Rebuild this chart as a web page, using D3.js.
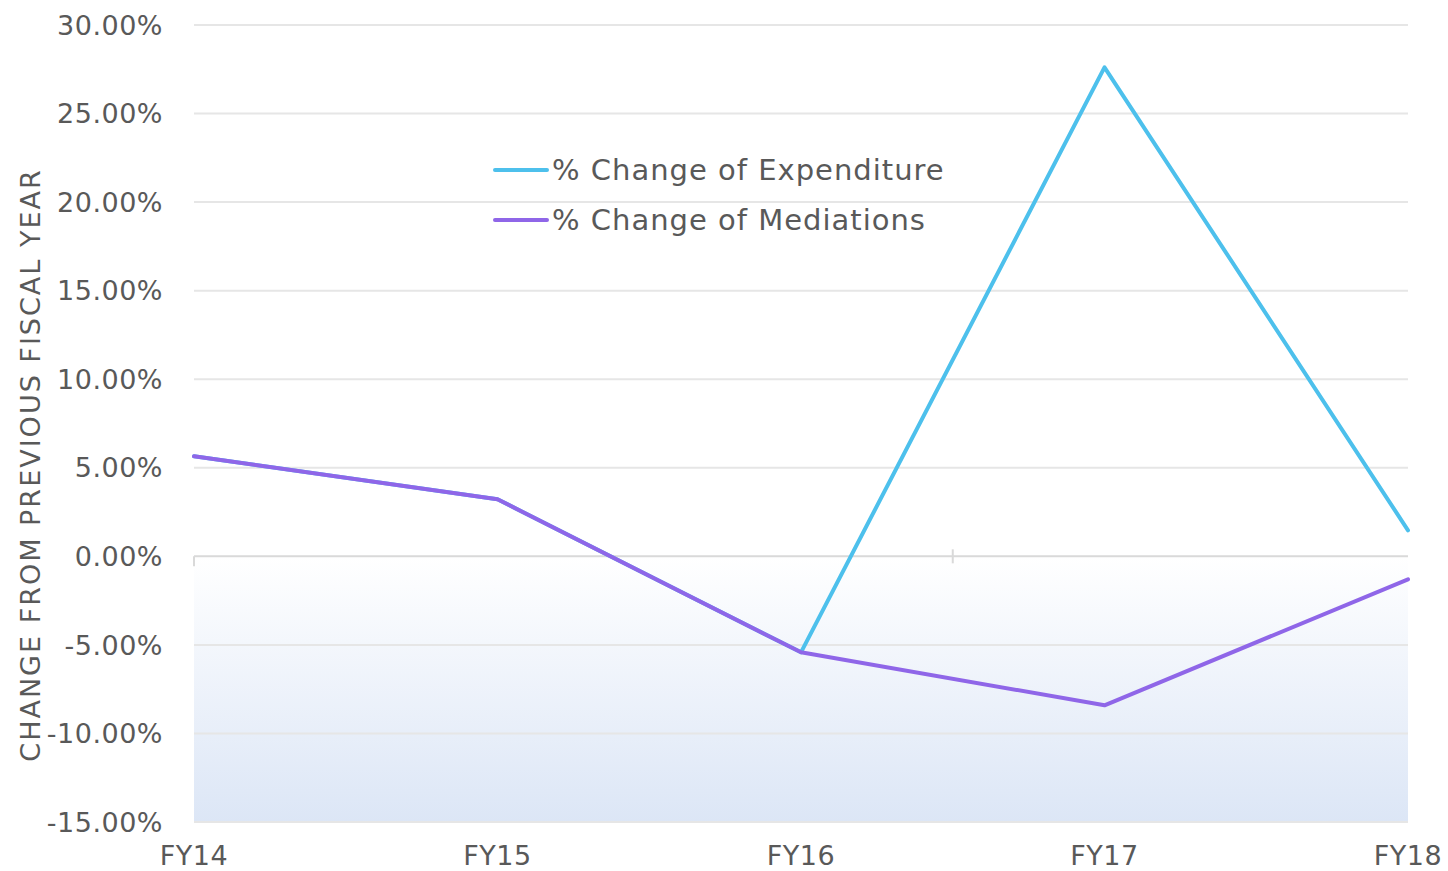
<!DOCTYPE html>
<html>
<head>
<meta charset="utf-8">
<script src="https://cdn.jsdelivr.net/npm/d3@7"></script>
<style>
  body { margin: 0; background: #fff; }
  text { font-family: "DejaVu Sans", sans-serif; fill: #595959; }
</style>
</head>
<body>
<div id="chart"></div>
<script>
var years = ["FY14", "FY15", "FY16", "FY17", "FY18"];
var expenditure = [5.65, 3.22, -5.42, 27.61, 1.47];
var mediations = [5.65, 3.22, -5.42, -8.41, -1.30];
var yTicks = [-15, -10, -5, 0, 5, 10, 15, 20, 25, 30];

var svgWidth = 1448;
var svgHeight = 871;
var margin = { top: 25, right: 40, bottom: 49, left: 194 };
var chartWidth = svgWidth - margin.left - margin.right;
var chartHeight = svgHeight - margin.top - margin.bottom;

var svg = d3.select("#chart")
  .append("svg")
  .attr("width", svgWidth)
  .attr("height", svgHeight);

var chartGroup = svg.append("g")
  .attr("transform", `translate(${margin.left}, ${margin.top})`);

var x = d3.scalePoint().domain(years).range([0, chartWidth]);
var y = d3.scaleLinear().domain([-15, 30]).range([chartHeight, 0]);

// shaded area below zero
var defs = svg.append("defs");
var grad = defs.append("linearGradient")
  .attr("id", "negGrad")
  .attr("x1", 0).attr("y1", 0).attr("x2", 0).attr("y2", 1);
grad.append("stop").attr("offset", "0%").attr("stop-color", "#ffffff");
grad.append("stop").attr("offset", "100%").attr("stop-color", "#dce6f6");

chartGroup.append("rect")
  .attr("x", 0)
  .attr("y", y(0))
  .attr("width", chartWidth)
  .attr("height", y(-15) - y(0))
  .attr("fill", "url(#negGrad)");

// gridlines
chartGroup.selectAll(".grid")
  .data(yTicks.filter(d => d !== 0))
  .enter().append("line")
  .attr("x1", 0).attr("x2", chartWidth)
  .attr("y1", d => y(d)).attr("y2", d => y(d))
  .attr("stroke", "#e6e6e6")
  .attr("stroke-width", 2);

// zero line with small ticks
chartGroup.append("line")
  .attr("x1", 0).attr("x2", chartWidth)
  .attr("y1", y(0)).attr("y2", y(0))
  .attr("stroke", "#d9d9d9")
  .attr("stroke-width", 2);
chartGroup.append("line")
  .attr("x1", 0).attr("x2", 0)
  .attr("y1", y(0)).attr("y2", y(0) + 10)
  .attr("stroke", "#d9d9d9").attr("stroke-width", 2);
chartGroup.append("line")
  .attr("x1", chartWidth * 0.625).attr("x2", chartWidth * 0.625)
  .attr("y1", y(0) - 7).attr("y2", y(0) + 7)
  .attr("stroke", "#d9d9d9").attr("stroke-width", 2);

// y tick labels
chartGroup.selectAll(".ylab")
  .data(yTicks)
  .enter().append("text")
  .attr("x", -31)
  .attr("y", d => y(d))
  .attr("dy", "0.36em")
  .attr("text-anchor", "end")
  .style("font-size", "27px")
  .style("letter-spacing", "0.5px")
  .text(d => d.toFixed(2) + "%");

// x tick labels
chartGroup.selectAll(".xlab")
  .data(years)
  .enter().append("text")
  .attr("x", d => x(d))
  .attr("y", chartHeight + 33)
  .attr("dy", "0.36em")
  .attr("text-anchor", "middle")
  .style("font-size", "27px")
  .style("letter-spacing", "0.5px")
  .text(d => d);

// y axis title
svg.append("text")
  .attr("transform", "rotate(-90)")
  .attr("x", -465)
  .attr("y", 30)
  .attr("dy", "0.36em")
  .attr("text-anchor", "middle")
  .style("font-size", "27px")
  .style("letter-spacing", "2px")
  .text("CHANGE FROM PREVIOUS FISCAL YEAR");

// lines
var line = d3.line()
  .x((d, i) => x(years[i]))
  .y(d => y(d));

chartGroup.append("path")
  .datum(expenditure)
  .attr("d", line)
  .attr("fill", "none")
  .attr("stroke", "#4dc0ec")
  .attr("stroke-width", 4)
  .attr("stroke-linejoin", "round")
  .attr("stroke-linecap", "round");

chartGroup.append("path")
  .datum(mediations)
  .attr("d", line)
  .attr("fill", "none")
  .attr("stroke", "#8f66e8")
  .attr("stroke-width", 4)
  .attr("stroke-linejoin", "round")
  .attr("stroke-linecap", "round");

// legend
var legendItems = [
  { label: "% Change of Expenditure", color: "#4dc0ec" },
  { label: "% Change of Mediations", color: "#8f66e8" }
];
var legend = svg.append("g").attr("transform", "translate(495, 170)");
legendItems.forEach(function(item, i) {
  legend.append("line")
    .attr("x1", 0).attr("x2", 52)
    .attr("y1", i * 50).attr("y2", i * 50)
    .attr("stroke", item.color)
    .attr("stroke-width", 4)
    .attr("stroke-linecap", "round");
  legend.append("text")
    .attr("x", 57)
    .attr("y", i * 50)
    .attr("dy", "0.36em")
    .style("font-size", "29px")
    .style("letter-spacing", "1px")
    .text(item.label);
});
</script>
</body>
</html>
